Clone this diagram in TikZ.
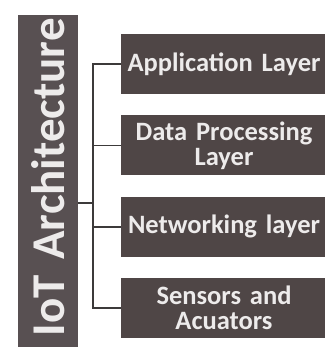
\documentclass[tikz,border=0pt]{standalone}
\usepackage{fontspec}
\setmainfont{Carlito}
\usepackage{tikz}
\usetikzlibrary{positioning}
\definecolor{LayerGray}{HTML}{4F4646}
\definecolor{TitleGray}{HTML}{585052}
\definecolor{PaleText}{HTML}{EDEBEB}
\definecolor{Bracket}{HTML}{3C3A3A}

\begin{document}
\begin{tikzpicture}[
    x=1pt, y=1pt,
    node distance=21pt,
    layerbox/.style={
        rectangle,
        fill=LayerGray,
        text=PaleText,
        minimum width=206pt,
        minimum height=60pt,
        text width=204pt,
        inner sep=1pt,
        align=center,
        font=\bfseries\fontsize{26.5}{25}\selectfont
    },
    titlebar/.style={
        rectangle,
        rotate=90,
        fill=TitleGray,
        text=PaleText,
        minimum height=60pt,
        text width=370pt,
        inner xsep=3pt,
        align=right,
        font=\bfseries\fontsize{47}{47}\selectfont
    },
    link/.style={draw=Bracket, line width=1.6pt}
]
    \useasboundingbox (0,0) rectangle (324,347);

    \node[titlebar, anchor=east] (iot) at (48,332) {IoT Architecture};

    \node[layerbox] (app) at (224,283) {Application Layer};
    \node[layerbox, below=of app] (proc) {Data Processing\\Layer};
    \node[layerbox, below=of proc] (net) {Networking layer};
    \node[layerbox, below=of net] (sens) {Sensors and\\Acuators};

    \coordinate (hub) at (93,0);

    \draw[link] (app.west) -- (app.west -| hub) -- (sens.west -| hub) -- (sens.west);
    \draw[link] (proc.west) -- (proc.west -| hub);
    \draw[link] (net.west) -- (net.west -| hub);
    \draw[link] (iot.south) -- (iot.south -| hub);
\end{tikzpicture}
\end{document}
